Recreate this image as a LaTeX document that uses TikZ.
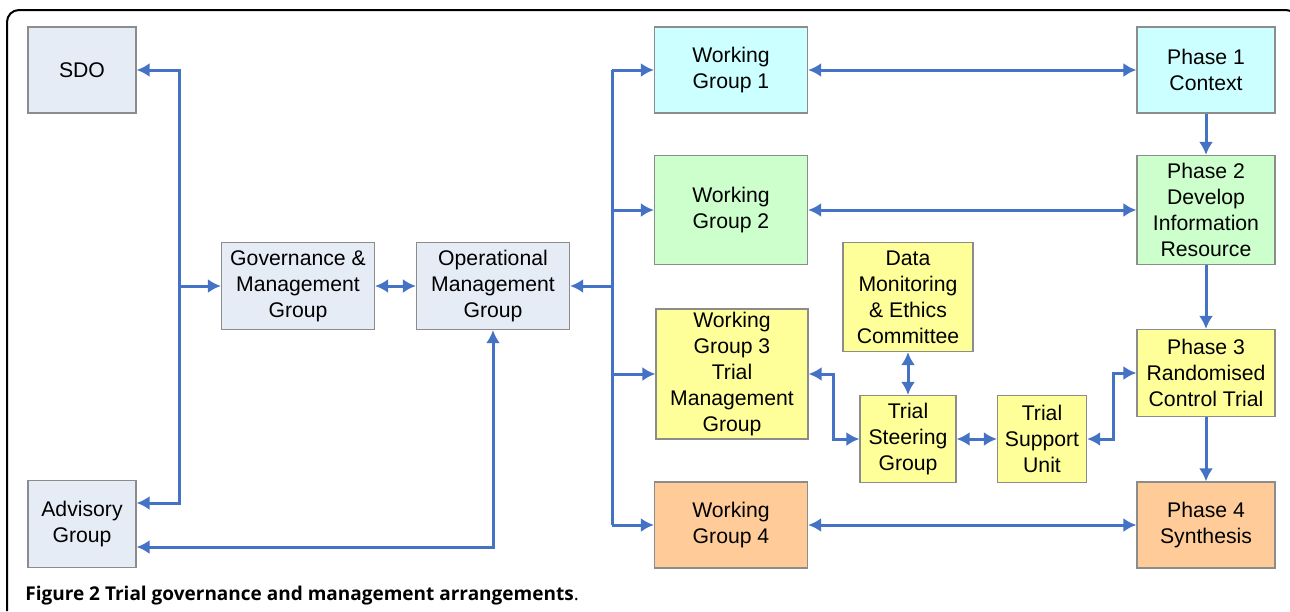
\documentclass[tikz,border=0pt]{standalone}
\usepackage{fontspec}
\setmainfont{Liberation Sans}
\newfontfamily\capfont{Open Sans}
\usetikzlibrary{arrows.meta}
\definecolor{govfill}{RGB}{230,236,246}
\definecolor{wgcyan}{RGB}{204,255,255}
\definecolor{wggreen}{RGB}{204,255,204}
\definecolor{wgyellow}{RGB}{255,255,153}
\definecolor{wgorange}{RGB}{255,204,153}
\definecolor{linkblue}{RGB}{68,114,196}
\definecolor{edgegray}{RGB}{140,140,140}
\tikzset{
  box/.style={draw=edgegray, line width=0.6pt, inner sep=0pt, align=center,
    font=\fontsize{10.6}{13}\selectfont},
  link/.style={draw=linkblue, line width=1.5pt, -{Latex[length=6.5pt,width=7pt]}},
  twoway/.style={link, {Latex[length=6.5pt,width=7pt]}-{Latex[length=6.5pt,width=7pt]}},
}
\begin{document}
\begin{tikzpicture}[x=0.5pt,y=-0.5pt]
      \useasboundingbox (0,0) rectangle (1290,611);
      \draw[line width=1pt, rounded corners=6pt] (7,611) -- (7,10) -- (1298,10) -- (1298,611);
      % left column
      \node[box, fill=govfill, minimum width=54pt, minimum height=43pt] (sdo) at (82,70) {SDO};
      \node[box, fill=govfill, minimum width=54pt, minimum height=43.5pt] (adv) at (82,524) {Advisory\\Group};
      \node[box, fill=govfill, minimum width=76.5pt, minimum height=43.5pt] (gov) at (298,286) {Governance \&\\Management\\Group};
      \node[box, fill=govfill, minimum width=76.5pt, minimum height=43.5pt] (op) at (493,286) {Operational\\Management\\Group};
      % working groups
      \node[box, fill=wgcyan, minimum width=76.5pt, minimum height=43pt] (wg1) at (731,70) {Working\\Group 1};
      \node[box, fill=wggreen, minimum width=76.5pt, minimum height=54.5pt] (wg2) at (731,210) {Working\\Group 2};
      \node[box, fill=wgyellow, minimum width=76pt, minimum height=65pt] (wg3) at (732,374) {Working\\Group 3\\Trial\\Management\\Group};
      \node[box, fill=wgorange, minimum width=76.5pt, minimum height=43pt] (wg4) at (731,525) {Working\\Group 4};
      % phases
      \node[box, fill=wgcyan, minimum width=69pt, minimum height=43pt] (ph1) at (1206,70) {Phase 1\\Context};
      \node[box, fill=wggreen, minimum width=69pt, minimum height=54.5pt] (ph2) at (1206,210) {Phase 2\\Develop\\Information\\Resource};
      \node[box, fill=wgyellow, minimum width=69pt, minimum height=43.5pt] (ph3) at (1206,373) {Phase 3\\Randomised\\Control Trial};
      \node[box, fill=wgorange, minimum width=69pt, minimum height=43pt] (ph4) at (1206,525) {Phase 4\\Synthesis};
      % trial committees
      \node[box, fill=wgyellow, minimum width=65pt, minimum height=54.5pt] (dmec) at (908,297) {Data\\Monitoring\\\& Ethics\\Committee};
      \node[box, fill=wgyellow, minimum width=48pt, minimum height=43.5pt] (tsg) at (908,439) {Trial\\Steering\\Group};
      \node[box, fill=wgyellow, minimum width=44.5pt, minimum height=43.5pt] (tsu) at (1042,439) {Trial\\Support\\Unit};
      % caption
      \node[anchor=base west, inner sep=0pt, font=\capfont\fontsize{9.5}{12}\selectfont] (cap) at (25,600)
        {\textbf{Figure 2 Trial governance and management arrangements}.};
      % left bus
      \coordinate (lt) at (179,70);
      \coordinate (lb) at (179,503);
      \coordinate (lm) at (179,286);
      \draw[link] (lb) -- (lt) -- (sdo);
      \draw[link] (lt) -- (lb) -- (lb -| adv.east);
      \draw[link] (lm) -- (gov);
      \draw[twoway] (gov) -- (op);
      \coordinate (ac) at (493,547);
      \draw[twoway] (ac -| adv.east) -- (ac) -- (op.south);
      % right bus
      \coordinate (rt) at (612,70);
      \coordinate (rb) at (612,525);
      \coordinate (rm) at (612,286);
      \draw[link] (rm) -- (op);
      \draw[draw=linkblue, line width=1.5pt] (rt) -- (rb);
      \draw[link] (rt) -- (wg1);
      \draw[link] (rt |- wg2) -- (wg2);
      \draw[link] (rt |- wg3) -- (wg3);
      \draw[link] (rb) -- (wg4);
      % working groups to phases
      \draw[twoway] (wg1) -- (ph1);
      \draw[twoway] (wg2) -- (ph2);
      \draw[twoway] (wg4) -- (ph4);
      \draw[link] (ph1) -- (ph2);
      \draw[link] (ph2) -- (ph3);
      \draw[link] (ph3) -- (ph4);
      % trial committees
      \draw[twoway] (wg3.east) -- ++(25,0) |- (tsg);
      \draw[twoway] (dmec) -- (tsg);
      \draw[twoway] (tsg) -- (tsu);
      \draw[twoway] (tsu.east) -- ++(26,0) |- (ph3);
    \end{tikzpicture}
\end{document}
